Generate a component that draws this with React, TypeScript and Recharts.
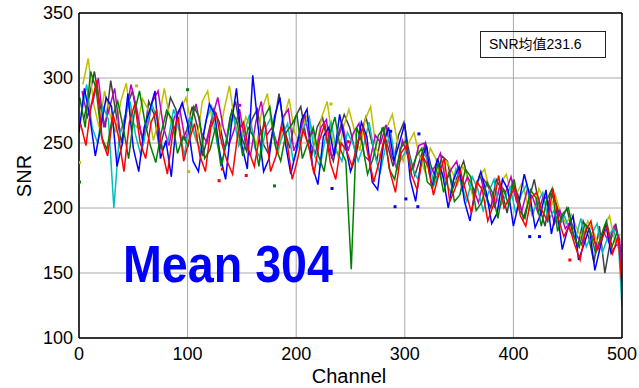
import React from 'react';
import { ComposedChart, Line, Scatter, XAxis, YAxis, CartesianGrid, ReferenceLine } from 'recharts';

// channel axis ticks and SNR axis ticks
const channelTicks = [0, 100, 200, 300, 400, 500];
const snrTicks = [100, 150, 200, 250, 300, 350];
const channelStep = 5;

// SNR read every 5 channels, one array per curve
const blue = [
  258, 292, 270, 240, 262, 285, 278, 232, 250, 288,
  246, 228, 262, 275, 290, 238, 252, 224, 270, 281,
  265, 236, 228, 258, 280, 272, 240, 222, 262, 292,
  248, 230, 302, 262, 228, 238, 270, 285, 250, 226,
  244, 268, 276, 232, 218, 255, 262, 240, 272, 250,
  228, 240, 266, 255, 220, 214, 248, 262, 236, 250,
  265, 222, 205, 236, 248, 215, 238, 225, 200, 222,
  232, 205, 190, 215, 228, 212, 188, 196, 222, 214,
  186, 204, 226, 210, 185, 195, 214, 180, 200, 168,
  184, 194, 160, 172, 185, 152, 170, 188, 165, 172,
];
const green = [
  285, 262, 305, 292, 255, 245, 270, 282, 262, 238,
  272, 290, 266, 248, 235, 258, 275, 268, 242, 255,
  248, 278, 270, 238, 245, 262, 232, 250, 275, 266,
  240, 262, 255, 232, 270, 278, 248, 236, 258, 264,
  272, 238, 250, 262, 240, 228, 256, 270, 245, 236,
  153, 262, 250, 226, 238, 256, 262, 230, 222, 245,
  252, 228, 240, 246, 220, 216, 235, 212, 228, 205,
  210, 230, 224, 198, 204, 220, 212, 192, 215, 202,
  222, 198, 192, 214, 208, 186, 206, 215, 182, 196,
  200, 178, 170, 188, 182, 165, 178, 190, 170, 182,
];
const red = [
  265, 248, 280, 298, 252, 240, 272, 255, 228, 266,
  280, 250, 238, 266, 275, 245, 226, 258, 270, 236,
  252, 265, 240, 228, 262, 272, 250, 236, 226, 258,
  266, 244, 232, 256, 265, 228, 240, 262, 252, 222,
  238, 260, 248, 226, 252, 265, 235, 222, 250, 244,
  232, 250, 262, 240, 220, 236, 255, 228, 212, 242,
  248, 225, 214, 240, 232, 210, 226, 238, 205, 215,
  228, 212, 196, 220, 214, 190, 202, 225, 200, 208,
  216, 194, 186, 208, 212, 198, 190, 215, 192, 178,
  186, 172, 160, 182, 190, 168, 176, 186, 165, 178,
];
const cyan = [
  272, 295, 262, 250, 278, 268, 200, 255, 270, 282,
  256, 240, 262, 280, 268, 245, 252, 276, 262, 240,
  270, 255, 244, 268, 278, 250, 235, 258, 272, 248,
  258, 272, 246, 238, 262, 270, 242, 255, 265, 236,
  248, 262, 270, 240, 232, 255, 266, 244, 236, 258,
  250, 236, 248, 266, 242, 226, 246, 258, 232, 238,
  246, 230, 222, 242, 236, 218, 228, 222, 212, 230,
  218, 205, 224, 215, 198, 212, 222, 200, 208, 216,
  196, 210, 218, 195, 204, 212, 190, 198, 186, 194,
  182, 176, 192, 170, 180, 188, 166, 178, 184, 168,
];
const magenta = [
  290, 270, 282, 300, 262, 276, 292, 258, 268, 295,
  278, 255, 262, 282, 290, 262, 248, 270, 276, 252,
  266, 280, 258, 250, 270, 285, 262, 248, 260, 276,
  252, 240, 266, 282, 256, 262, 248, 270, 276, 244,
  255, 272, 250, 242, 262, 268, 238, 252, 264, 244,
  258, 265, 240, 236, 256, 250, 264, 240, 230, 252,
  240, 230, 248, 250, 226, 232, 242, 220, 230, 236,
  214, 224, 216, 204, 222, 215, 200, 218, 212, 224,
  205, 198, 214, 208, 196, 210, 204, 188, 198, 184,
  190, 180, 172, 186, 178, 168, 182, 174, 186, 176,
];
const yellow = [
  295, 315, 280, 262, 290, 272, 258, 282, 296, 266,
  262, 284, 276, 252, 268, 292, 270, 255, 275, 285,
  264, 250, 282, 290, 262, 252, 275, 294, 266, 250,
  270, 262, 248, 276, 288, 256, 242, 268, 284, 258,
  250, 272, 264, 246, 270, 282, 252, 240, 262, 276,
  260, 244, 268, 278, 246, 238, 262, 272, 250, 236,
  250, 258, 240, 228, 246, 238, 222, 236, 228, 218,
  232, 222, 206, 224, 230, 212, 205, 220, 226, 208,
  212, 220, 200, 196, 215, 206, 198, 210, 196, 188,
  195, 184, 176, 190, 182, 172, 186, 194, 174, 180,
];
const gray = [
  268, 285, 305, 280, 262, 298, 272, 250, 278, 290,
  268, 250, 282, 272, 245, 262, 285, 276, 250, 260,
  278, 262, 240, 258, 276, 266, 245, 270, 282, 256,
  244, 268, 276, 250, 242, 262, 288, 260, 246, 270,
  278, 254, 240, 262, 270, 248, 236, 258, 272, 262,
  244, 256, 270, 252, 236, 262, 248, 232, 256, 266,
  242, 225, 238, 250, 232, 222, 240, 236, 215, 226,
  236, 218, 208, 226, 210, 200, 222, 214, 196, 220,
  210, 192, 206, 222, 200, 186, 212, 204, 190, 200,
  182, 170, 190, 178, 158, 186, 150, 174, 188, 166,
];
// last channel values
const redEnd = 140;
const cyanEnd = 124;
const magentaEnd = 135;

// isolated points [channel, snr]
const yellowDots = [[0.5, 235], [53, 294], [101, 228], [232, 280]];
const greenDots = [[0.5, 220], [100, 291], [180, 217]];
const redDots = [[129, 221], [132, 230], [154, 225], [248, 251], [452, 160]];
const blueDots = [[233, 215], [287, 259], [291, 201], [301, 207], [312, 201], [313, 257], [415, 178], [424, 178]];
const magentaDots = [[148, 279], [214.5, 258]];

const toPoints = (vals: number[], off: number, end?: number) => {
  const pts = vals.map((v, i) => ({ ch: i * channelStep + off, v }));
  if (end !== undefined) pts.push({ ch: 500, v: end });
  return pts;
};
const toDots = (d: number[][]) => d.map(([ch, snr]) => ({ ch, v: snr }));

const series = [
  { name: 'gray', vals: gray, off: 4.2, color: '#404040' },
  { name: 'yellow', vals: yellow, off: 3.5, color: '#bfbf00' },
  { name: 'magenta', vals: magenta, off: 2.8, color: '#bf00bf', end: magentaEnd },
  { name: 'cyan', vals: cyan, off: 2.1, color: '#00bfbf', end: cyanEnd },
  { name: 'blue', vals: blue, off: 0, color: '#0000ff' },
  { name: 'green', vals: green, off: 0.7, color: '#008000' },
  { name: 'red', vals: red, off: 1.4, color: '#ff0000', end: redEnd },
];

const dotSets = [
  { name: 'yd', d: yellowDots, color: '#bfbf00' },
  { name: 'gd', d: greenDots, color: '#008000' },
  { name: 'rd', d: redDots, color: '#ff0000' },
  { name: 'bd', d: blueDots, color: '#0000ff' },
  { name: 'md', d: magentaDots, color: '#bf00bf' },
];

const font = '"Liberation Sans", Arial, Helvetica, sans-serif';

export default function App() {
  return (
    <div style={{ position: 'absolute', left: 0, top: 0, width: 639, height: 388, background: '#fff' }}>
      <ComposedChart width={639} height={388} margin={{ top: 13, right: 17, bottom: 20, left: 19 }}>
        <CartesianGrid stroke="#a8a8a8" strokeWidth={1} />
        <XAxis
          dataKey="ch"
          type="number"
          domain={[0, 500]}
          ticks={channelTicks}
          allowDataOverflow
          height={30}
          tickLine={false}
          tickSize={0}
          tickMargin={9}
          axisLine={{ stroke: '#000', strokeWidth: 1.5 }}
          tick={{ fill: '#000', fontSize: 18, fontFamily: font }}
        />
        <YAxis
          type="number"
          domain={[100, 350]}
          ticks={snrTicks}
          allowDataOverflow
          width={60}
          tickLine={false}
          tickSize={0}
          tickMargin={6}
          axisLine={{ stroke: '#000', strokeWidth: 1.5 }}
          tick={{ fill: '#000', fontSize: 18, fontFamily: font }}
        />
        {series.map((s) => (
          <Line
            key={s.name}
            data={toPoints(s.vals, s.off, s.end)}
            dataKey="v"
            stroke={s.color}
            strokeWidth={1.5}
            dot={false}
            isAnimationActive={false}
          />
        ))}
        {dotSets.map((s) => (
          <Scatter
            key={s.name}
            data={toDots(s.d)}
            dataKey="v"
            fill={s.color}
            isAnimationActive={false}
            shape={(p: any) => <rect x={p.cx - 1.5} y={p.cy - 1.5} width={3} height={3} fill={s.color} />}
          />
        ))}
        <ReferenceLine y={350} stroke="#000" strokeWidth={1.5} />
        <ReferenceLine x={500} stroke="#000" strokeWidth={1.5} />
      </ComposedChart>
      <svg width={639} height={388} style={{ position: 'absolute', left: 0, top: 0, pointerEvents: 'none' }}>
        <text x={123} y={282} fontSize={52} fontWeight="bold" fill="#0000ff" fontFamily={font} textLength={210} lengthAdjust="spacingAndGlyphs">
          Mean 304
        </text>
        <rect x={480.5} y={31.5} width={125} height={26} fill="none" stroke="#222" strokeWidth={1} />
        <text x={489} y={48.5} fontSize={14} fill="#000" fontFamily={'"Liberation Sans", Arial, "Noto Sans CJK SC", sans-serif'}>
          SNR均值231.6
        </text>
        <text x={349} y={383} fontSize={20} fill="#000" fontFamily={font} textAnchor="middle">
          Channel
        </text>
        <text x={31} y={176} fontSize={20} fill="#000" fontFamily={font} textAnchor="middle" transform="rotate(-90 31 176)">
          SNR
        </text>
      </svg>
    </div>
  );
}
